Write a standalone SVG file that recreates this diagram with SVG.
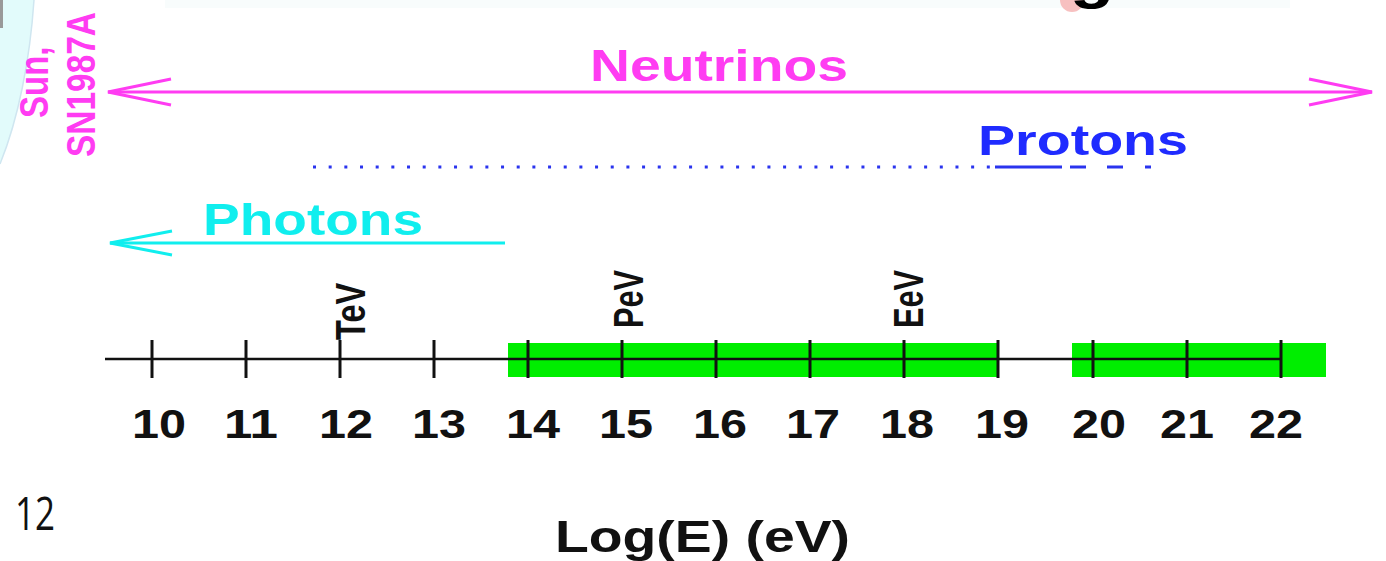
<svg xmlns="http://www.w3.org/2000/svg" width="1386" height="561" viewBox="0 0 1386 561">
  <style>
    .sans { font-family: "Liberation Sans", Arial, sans-serif; }
    .b { font-weight: bold; }
    .mag { fill: #ff3cf2; }
    .blu { fill: #1f2bff; }
    .cya { fill: #10eeee; }
    .num { font-size: 40px; font-weight: bold; fill: #111; text-anchor: middle; font-family: "Liberation Sans", Arial, sans-serif; }
    .unit { font-size: 30px; font-weight: bold; fill: #111; font-family: "Liberation Sans", Arial, sans-serif; }
    .tick { stroke: #111; stroke-width: 3; }
    .band { fill: #00ee00; }
  </style>
  <defs>
    <marker id="headMag" markerUnits="userSpaceOnUse" markerWidth="70" markerHeight="32" refX="64" refY="15" orient="auto-start-reverse">
      <path d="M1,2 L64,15 L1,28" fill="none" stroke="#ff3cf2" stroke-width="3"/>
    </marker>
    <marker id="headCya" markerUnits="userSpaceOnUse" markerWidth="70" markerHeight="32" refX="63" refY="15" orient="auto-start-reverse">
      <path d="M1,3 L63,15 L1,27" fill="none" stroke="#10eeee" stroke-width="3"/>
    </marker>
  </defs>
  <rect width="1386" height="561" fill="#ffffff"/>

  <g id="background">
    <path d="M0,0 L34,0 C30,60 18,120 0,164 Z" fill="#e2fbfb"/>
    <path d="M34,0 C30,60 18,120 0,164" fill="none" stroke="#cfe6f0" stroke-width="1.5"/>
    <rect x="0" y="0" width="3" height="28" fill="#999"/>
    <rect x="165" y="0" width="1125" height="8" fill="#f8fcfc"/>
    <circle cx="1072" cy="0" r="12" fill="#f7c0c0"/>
    <text class="sans b" x="1092" y="-3" font-size="60" text-anchor="middle" transform="translate(1092,0) scale(1.22,1) translate(-1092,0)" fill="#000">g</text>
  </g>

  <g id="connectors">
    <line id="neutrino-arrow" x1="108" y1="92" x2="1372" y2="92" stroke="#ff3cf2" stroke-width="3" marker-start="url(#headMag)" marker-end="url(#headMag)"/>
    <line id="photon-arrow" x1="505" y1="243" x2="110" y2="243" stroke="#10eeee" stroke-width="3" marker-end="url(#headCya)"/>
    <g id="proton-range" stroke="#2a34ee" stroke-width="3">
      <line x1="313" y1="167" x2="992" y2="167" stroke-dasharray="3 12.67"/>
      <line x1="995" y1="167" x2="1062" y2="167"/>
      <line x1="1070" y1="167" x2="1086" y2="167"/>
      <line x1="1107" y1="167" x2="1123" y2="167"/>
      <line x1="1145" y1="167" x2="1151" y2="167"/>
    </g>
  </g>

  <g id="source-label">
    <text class="sans b mag" font-size="33" transform="translate(48,118) scale(1.25,1) rotate(-90)">Sun,</text>
    <text class="sans b mag" font-size="33" textLength="145" lengthAdjust="spacingAndGlyphs" transform="translate(95,157) scale(1.25,1) rotate(-90)">SN1987A</text>
  </g>

  <g id="neutrinos">
    <text class="sans b mag" x="590" y="81" font-size="44" textLength="258" lengthAdjust="spacingAndGlyphs">Neutrinos</text>
  </g>

  <g id="protons">
    <text class="sans b blu" x="978" y="155" font-size="43" textLength="210" lengthAdjust="spacingAndGlyphs">Protons</text>
  </g>

  <g id="photons">
    <text class="sans b cya" x="203" y="235" font-size="44" textLength="220" lengthAdjust="spacingAndGlyphs">Photons</text>
  </g>

  <g id="axis">
    <rect class="band" x="508" y="343" width="491" height="34"/>
    <rect class="band" x="1072" y="343" width="254" height="34"/>
    <line x1="105" y1="359" x2="1281" y2="359" stroke="#111" stroke-width="2.5"/>
    <line class="tick" x1="152" y1="340" x2="152" y2="378"/>
    <line class="tick" x1="246" y1="340" x2="246" y2="378"/>
    <line class="tick" x1="340" y1="340" x2="340" y2="378"/>
    <line class="tick" x1="434" y1="340" x2="434" y2="378"/>
    <line class="tick" x1="528" y1="340" x2="528" y2="378"/>
    <line class="tick" x1="622" y1="340" x2="622" y2="378"/>
    <line class="tick" x1="716" y1="340" x2="716" y2="378"/>
    <line class="tick" x1="810" y1="340" x2="810" y2="378"/>
    <line class="tick" x1="904" y1="340" x2="904" y2="378"/>
    <line class="tick" x1="998" y1="340" x2="998" y2="378"/>
    <line class="tick" x1="1093" y1="340" x2="1093" y2="378"/>
    <line class="tick" x1="1187" y1="340" x2="1187" y2="378"/>
    <line class="tick" x1="1281" y1="340" x2="1281" y2="378"/>
  </g>

  <g id="unit-labels">
    <text class="unit" textLength="57" lengthAdjust="spacingAndGlyphs" transform="translate(365,340) scale(1.4,1) rotate(-90)">TeV</text>
    <text class="unit" textLength="58" lengthAdjust="spacingAndGlyphs" transform="translate(643,328) scale(1.4,1) rotate(-90)">PeV</text>
    <text class="unit" textLength="58" lengthAdjust="spacingAndGlyphs" transform="translate(923,328) scale(1.4,1) rotate(-90)">EeV</text>
  </g>

  <g id="tick-numbers">
    <text class="num" x="159" y="438" textLength="54" lengthAdjust="spacingAndGlyphs">10</text>
    <text class="num" x="251" y="438" textLength="54" lengthAdjust="spacingAndGlyphs">11</text>
    <text class="num" x="346" y="438" textLength="54" lengthAdjust="spacingAndGlyphs">12</text>
    <text class="num" x="439" y="438" textLength="54" lengthAdjust="spacingAndGlyphs">13</text>
    <text class="num" x="533" y="438" textLength="54" lengthAdjust="spacingAndGlyphs">14</text>
    <text class="num" x="626" y="438" textLength="54" lengthAdjust="spacingAndGlyphs">15</text>
    <text class="num" x="720" y="438" textLength="54" lengthAdjust="spacingAndGlyphs">16</text>
    <text class="num" x="813" y="438" textLength="54" lengthAdjust="spacingAndGlyphs">17</text>
    <text class="num" x="907" y="438" textLength="54" lengthAdjust="spacingAndGlyphs">18</text>
    <text class="num" x="1002" y="438" textLength="54" lengthAdjust="spacingAndGlyphs">19</text>
    <text class="num" x="1099" y="438" textLength="54" lengthAdjust="spacingAndGlyphs">20</text>
    <text class="num" x="1187" y="438" textLength="54" lengthAdjust="spacingAndGlyphs">21</text>
    <text class="num" x="1276" y="438" textLength="54" lengthAdjust="spacingAndGlyphs">22</text>
  </g>

  <g id="axis-title">
    <text class="sans b" x="555" y="552" font-size="44" fill="#111" textLength="295" lengthAdjust="spacingAndGlyphs">Log(E) (eV)</text>
  </g>

  <g id="slide-number">
    <text x="15" y="530" font-family="'Open Sans', Lato, sans-serif" font-size="46" fill="#111" textLength="40" lengthAdjust="spacingAndGlyphs">12</text>
  </g>
</svg>
